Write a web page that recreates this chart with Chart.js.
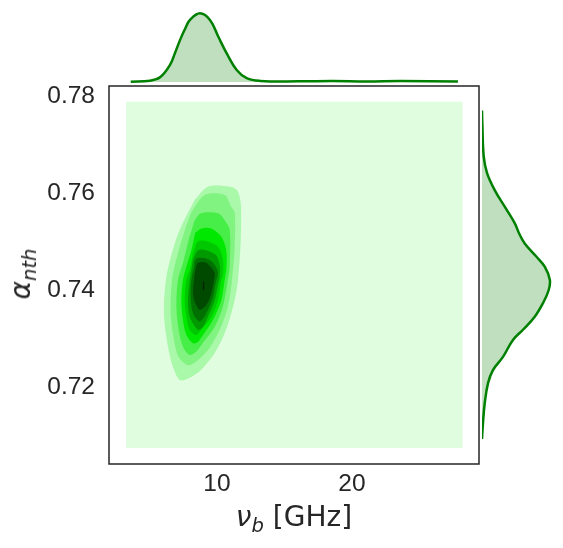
<!DOCTYPE html>
<html>
<head>
<meta charset="utf-8">
<script src="https://cdn.jsdelivr.net/npm/chart.js@4/dist/chart.umd.min.js"></script>
<style>
  body { margin: 0; background: #fff; }
  #wrap { position: relative; width: 563px; height: 548px; font-family: "DejaVu Sans", sans-serif; color: #262626; }
  canvas { position: absolute; }
  #main_chart { left: 0; top: 0; }
  #top_chart { left: 109px; top: 0; }
  #right_chart { left: 482px; top: 86px; }
  .axis_label { position: absolute; font-size: 28px; line-height: 28px; white-space: nowrap; }
  .axis_label i { font-style: italic; }
  .axis_label sub { font-size: 0.7em; vertical-align: -0.3em; line-height: 0; font-style: italic; }
  #x_label { left: 109px; width: 370px; top: 503px; text-align: center; }
  #y_label { left: 21px; top: 274px; transform: translate(-50%, -50%) rotate(-90deg); }
</style>
</head>
<body>
<div id="wrap">
  <canvas id="main_chart" width="563" height="548"></canvas>
  <canvas id="top_chart" width="370" height="86"></canvas>
  <canvas id="right_chart" width="81" height="378"></canvas>
  <div class="axis_label" id="x_label"><i>ν</i><sub>b</sub> [GHz]</div>
  <div class="axis_label" id="y_label"><i>α</i><sub>nth</sub></div>
</div>

<script>
///////////   DATA  /////////////////

const x_range = [2.0, 29.41];
const y_range = [0.70412, 0.78206];
const x_ticks = [10, 20];
const y_ticks = [0.72, 0.74, 0.76, 0.78];

// kde grid extent (lowest filled level)
const grid_x = [3.26, 28.2];
const grid_y = [0.7074, 0.7788];

// contour levels, outer -> inner, [nu_b, alpha_nth]
const level_1 = [[8.35,0.7586],[9.33,0.7613],[10.96,0.7613],[11.48,0.7606],[11.76,0.7579],[11.76,0.7503],[11.56,0.7421],[11.31,0.7379],[10.67,0.7318],[9.83,0.7270],[8.81,0.7235],[7.98,0.7219],[7.26,0.7214],[6.74,0.7241],[6.37,0.7283],[6.07,0.7352],[6.22,0.7421],[6.59,0.7469],[7.24,0.7524]];
const level_2 = [[8.10,0.7561],[9.09,0.7596],[10.57,0.7596],[11.04,0.7572],[11.31,0.7559],[11.31,0.7489],[11.11,0.7421],[10.81,0.7366],[10.20,0.7318],[9.33,0.7276],[8.44,0.7252],[7.85,0.7245],[7.16,0.7262],[6.81,0.7297],[6.57,0.7352],[6.67,0.7421],[7.11,0.7476],[7.63,0.7524]];
const level_3 = [[8.35,0.7544],[8.81,0.7558],[10.07,0.7558],[10.57,0.7544],[10.94,0.7524],[10.94,0.7447],[10.81,0.7421],[10.44,0.7366],[9.83,0.7324],[8.96,0.7291],[8.47,0.7273],[7.98,0.7266],[7.48,0.7283],[7.16,0.7318],[6.99,0.7366],[7.11,0.7421],[7.48,0.7456],[7.90,0.7503]];
const level_4 = [[8.39,0.7518],[8.84,0.7527],[9.58,0.7527],[10.32,0.7510],[10.69,0.7482],[10.69,0.7441],[10.57,0.7421],[10.32,0.7379],[9.70,0.7338],[8.96,0.7307],[8.59,0.7293],[8.22,0.7290],[7.73,0.7307],[7.48,0.7338],[7.36,0.7379],[7.48,0.7421],[7.73,0.7448],[8.10,0.7482]];
const level_5 = [[8.22,0.7476],[8.59,0.7500],[9.33,0.7500],[10.07,0.7489],[10.44,0.7462],[10.44,0.7431],[10.32,0.7421],[10.07,0.7379],[9.58,0.7345],[8.84,0.7318],[8.47,0.7307],[7.98,0.7318],[7.73,0.7345],[7.61,0.7379],[7.73,0.7421],[7.98,0.7441]];
const level_6 = [[8.22,0.7462],[8.59,0.7482],[9.19,0.7482],[9.93,0.7472],[10.20,0.7452],[10.20,0.7425],[10.07,0.7410],[9.83,0.7379],[9.33,0.7345],[8.96,0.7324],[8.59,0.7318],[7.98,0.7345],[7.85,0.7379],[7.98,0.7421]];
const level_7 = [[8.30,0.7448],[8.47,0.7465],[9.21,0.7465],[9.70,0.7456],[10.07,0.7437],[9.87,0.7410],[9.70,0.7386],[9.21,0.7352],[8.72,0.7335],[8.22,0.7352],[8.05,0.7386],[8.10,0.7421]];
const level_8 = [[8.39,0.7441],[8.59,0.7456],[9.21,0.7456],[9.83,0.7435],[9.78,0.7421],[9.58,0.7393],[9.21,0.7369],[8.72,0.7359],[8.39,0.7373],[8.22,0.7393],[8.30,0.7421]];
const level_9 = [[8.96,0.7417],[9.04,0.7417],[9.04,0.7400],[8.96,0.7400]];

// marginal kde of nu_b
const top_nu = [3.61, 5.04, 5.78, 6.52, 6.89, 7.26, 7.63, 8.0, 8.74, 9.48, 10.10, 10.72, 11.46, 12.2, 13.19, 16.15, 18.6, 21.1, 23.6, 27.85];
const top_density = [0.001, 0.006, 0.021, 0.077, 0.131, 0.189, 0.239, 0.280, 0.310, 0.280, 0.204, 0.129, 0.054, 0.017, 0.005, 0.003, 0.004, 0.002, 0.004, 0.002];

// marginal kde of alpha_nth
const right_alpha = [0.7770, 0.7744, 0.7675, 0.7641, 0.7606, 0.7572, 0.7538, 0.7517, 0.7496, 0.7469, 0.7448, 0.7421, 0.7400, 0.7373, 0.7345, 0.7318, 0.7297, 0.7262, 0.7235, 0.7208, 0.7166, 0.7125, 0.7093];
const right_density = [0, 0.2, 1.1, 3.2, 8.0, 14.3, 20.6, 23.3, 26.9, 34.2, 39.5, 42.7, 42.0, 38.4, 33.2, 25.8, 19.5, 13.2, 6.9, 3.8, 1.7, 0.6, 0];


///////////   STYLE  /////////////////

const text_color = "#262626";
const grid_color = "#e0fde0";
const level_colors = ["#aaf8aa", "#80f380", "#48ee48", "#00e800", "#00c800", "#009a00", "#007000", "#004a00", "#002000"];
const line_color = "#008000";
const fill_color = "rgba(0, 128, 0, 0.25)";

Chart.defaults.font.family = "'Liberation Sans', Arial, sans-serif";
Chart.defaults.color = text_color;


////////////// MAIN KDE /////////////

const levels = [level_1, level_2, level_3, level_4, level_5, level_6, level_7, level_8, level_9];

function polygon(points) {
  const pts = points.map(p => ({x: p[0], y: p[1]}));
  pts.push({x: points[0][0], y: points[0][1]});
  return pts;
}

const grid_rect = [[grid_x[0], grid_y[1]], [grid_x[1], grid_y[1]], [grid_x[1], grid_y[0]], [grid_x[0], grid_y[0]]];

const kde_datasets = [{
  data: polygon(grid_rect),
  backgroundColor: grid_color,
  fill: 'shape',
  tension: 0,
  order: 100
}];

for (let i = 0; i < levels.length; i += 1) {
  kde_datasets.push({
    data: polygon(levels[i]),
    backgroundColor: level_colors[i],
    fill: 'shape',
    tension: 0.3,
    order: 99 - i
  });
}

const frame = {
  id: 'frame',
  afterDraw(chart) {
    const {ctx, chartArea} = chart;
    ctx.save();
    ctx.strokeStyle = text_color;
    ctx.lineWidth = 1.5;
    ctx.strokeRect(chartArea.left, chartArea.top, chartArea.width, chartArea.height);
    ctx.restore();
  }
};

new Chart(document.querySelector("#main_chart"), {
  type: 'line',
  data: { datasets: kde_datasets },
  options: {
    responsive: false,
    animation: false,
    layout: { padding: { left: 0, top: 86, right: 84, bottom: 0 } },
    elements: { point: { radius: 0 }, line: { borderWidth: 0 } },
    plugins: { legend: { display: false }, tooltip: { enabled: false } },
    scales: {
      x: {
        type: 'linear',
        min: x_range[0],
        max: x_range[1],
        afterBuildTicks: s => { s.ticks = x_ticks.map(v => ({value: v})); },
        afterFit: s => { s.height = 84; },
        grid: { display: false, drawTicks: false },
        border: { display: false },
        ticks: { font: { size: 24.5 }, padding: 6, maxRotation: 0, callback: v => String(v) }
      },
      y: {
        type: 'linear',
        min: y_range[0],
        max: y_range[1],
        afterBuildTicks: s => { s.ticks = y_ticks.map(v => ({value: v})); },
        afterFit: s => { s.width = 109; },
        grid: { display: false, drawTicks: false },
        border: { display: false },
        ticks: { font: { size: 24.5 }, padding: 14, callback: v => v.toFixed(2) }
      }
    }
  },
  plugins: [frame]
});


////////////// TOP MARGINAL /////////////

new Chart(document.querySelector("#top_chart"), {
  type: 'line',
  data: {
    datasets: [{
      data: top_nu.map((v, i) => ({x: v, y: top_density[i]})),
      borderColor: line_color,
      borderWidth: 2.5,
      backgroundColor: fill_color,
      fill: 'origin',
      tension: 0.4,
      clip: false
    }]
  },
  options: {
    responsive: false,
    animation: false,
    layout: { padding: { left: 0, top: 0, right: 0, bottom: 4 } },
    elements: { point: { radius: 0 } },
    plugins: { legend: { display: false }, tooltip: { enabled: false } },
    scales: {
      x: { type: 'linear', display: false, min: x_range[0], max: x_range[1] },
      y: { type: 'linear', display: false, min: 0, max: 0.37 }
    }
  }
});


////////////// RIGHT MARGINAL /////////////

new Chart(document.querySelector("#right_chart"), {
  type: 'line',
  data: {
    datasets: [{
      data: right_alpha.map((a, i) => ({x: right_density[i], y: a})),
      borderColor: line_color,
      borderWidth: 2.5,
      backgroundColor: fill_color,
      fill: 'origin',
      tension: 0.4,
      clip: false
    }]
  },
  options: {
    indexAxis: 'y',
    responsive: false,
    animation: false,
    layout: { padding: 0 },
    elements: { point: { radius: 0 } },
    plugins: { legend: { display: false }, tooltip: { enabled: false } },
    scales: {
      x: { type: 'linear', display: false, min: 0, max: 51 },
      y: { type: 'linear', display: false, min: y_range[0], max: y_range[1] }
    }
  }
});
</script>
</body>
</html>
